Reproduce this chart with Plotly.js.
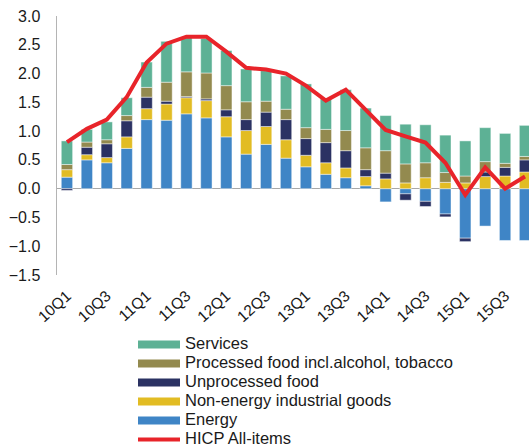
<!DOCTYPE html>
<html>
<head>
<meta charset="utf-8">
<script src="https://cdn.plot.ly/plotly-3.0.1.min.js"></script>
<style>html,body{margin:0;padding:0;background:#fff;}#chart{width:529px;height:446px;}</style>
</head>
<body>
<div id="chart"></div>
<script>
const quarters = ['10Q1','10Q2','10Q3','10Q4','11Q1','11Q2','11Q3','11Q4','12Q1','12Q2','12Q3','12Q4',
                  '13Q1','13Q2','13Q3','13Q4','14Q1','14Q2','14Q3','14Q4','15Q1','15Q2','15Q3','15Q4'];
const tickLabels = ['10Q1','10Q3','11Q1','11Q3','12Q1','12Q3','13Q1','13Q3','14Q1','14Q3','15Q1','15Q3'];

const energy      = [0.20,0.50,0.45,0.70,1.20,1.19,1.30,1.23,0.90,0.60,0.77,0.53,0.38,0.25,0.19,0.05,-0.23,-0.09,-0.22,-0.44,-0.86,-0.65,-0.90,-0.90];
const nonEnergy   = [0.13,0.09,0.09,0.20,0.19,0.28,0.28,0.30,0.35,0.41,0.31,0.32,0.20,0.20,0.17,0.16,0.17,0.10,0.19,0.11,0.10,0.21,0.22,0.29];
const unprocessed = [-0.03,0.13,0.24,0.28,0.20,0.05,0.02,0.03,0.12,0.19,0.25,0.35,0.29,0.35,0.30,0.12,0.10,-0.11,-0.09,-0.05,-0.06,0.08,0.15,0.21];
const processed   = [0.09,0.09,0.07,0.09,0.17,0.33,0.43,0.45,0.42,0.31,0.19,0.18,0.19,0.23,0.35,0.38,0.39,0.33,0.26,0.17,0.12,0.18,0.07,0.06];
const services    = [0.41,0.22,0.31,0.31,0.44,0.71,0.60,0.60,0.61,0.57,0.53,0.58,0.76,0.53,0.71,0.69,0.61,0.69,0.66,0.65,0.61,0.59,0.52,0.54];
const hicp        = [0.81,1.04,1.20,1.59,2.19,2.52,2.64,2.64,2.38,2.10,2.07,2.00,1.79,1.53,1.72,1.36,1.02,0.91,0.80,0.45,-0.11,0.37,0.00,0.21];

const seriesNames = ['Energy','Non-energy industrial goods','Unprocessed food','Processed food incl.alcohol, tobacco','Services'];
const seriesData  = [energy, nonEnergy, unprocessed, processed, services];
const seriesColors = ['#3f85c6','#e2bc23','#2b3263','#938a4f','#5db195'];
const lineName = 'HICP All-items';
const lineColor = '#e8242a';

const FONT = 'Liberation Sans, Arial, sans-serif';
const legendText = s => '<span style="font-size:16.5px">' + s + '</span>';

const traces = [];
seriesData.forEach((vals, i) => {
  traces.push({
    type: 'bar', x: quarters, y: vals, name: seriesNames[i], showlegend: false,
    marker: {color: seriesColors[i], line: {color: 'rgba(255,255,255,0.45)', width: 1}},
    hoverinfo: 'x+y+name'
  });
});
// legend entries (top to bottom: Services ... Energy)
for (let i = seriesNames.length - 1; i >= 0; i--) {
  traces.push({
    type: 'scatter', mode: 'lines', x: [quarters[0]], y: [null],
    name: legendText(seriesNames[i]), showlegend: true, hoverinfo: 'skip',
    line: {color: seriesColors[i], width: 8}
  });
}
traces.push({
  type: 'scatter', mode: 'lines', x: quarters, y: hicp, name: legendText(lineName),
  line: {color: lineColor, width: 4}
});

const plotL = 57, plotT = 16, plotB = 446 - 170.5, plotW = 529 - 57, plotH = plotB - plotT;

const layout = {
  width: 529, height: 446,
  margin: {l: plotL, r: 0, t: plotT, b: 170.5, pad: 0, autoexpand: false},
  paper_bgcolor: '#fff', plot_bgcolor: '#fff',
  font: {family: FONT, size: 16, color: '#1a1a1a'},
  barmode: 'relative', bargap: 0.43,
  showlegend: true,
  legend: {
    xref: 'paper', yref: 'paper',
    x: (133 - plotL) / plotW, y: (plotB - 330.7) / plotH,
    xanchor: 'left', yanchor: 'top', traceorder: 'normal',
    font: {family: FONT, size: 12, color: '#1a1a1a'},
    itemwidth: 42, bgcolor: 'rgba(0,0,0,0)', borderwidth: 0
  },
  xaxis: {
    type: 'category', categoryorder: 'array', categoryarray: quarters,
    range: [-0.5, 23.2], tickmode: 'array', tickvals: tickLabels, ticktext: tickLabels,
    tickangle: -42, ticks: '', showline: false, showgrid: false, zeroline: false,
    tickfont: {family: FONT, size: 15.5, color: '#1a1a1a'}, ticklabelstandoff: 8
  },
  yaxis: {
    range: [-1.5, 3.0], dtick: 0.5, tick0: 0, tickformat: '.1f',
    showgrid: false, showline: true, linecolor: '#b4b4b4', linewidth: 1.5,
    zeroline: true, zerolinecolor: '#a8a8a8', zerolinewidth: 1.5,
    ticks: '', tickfont: {family: FONT, size: 16, color: '#1a1a1a'}, ticklabelstandoff: 12
  }
};

Plotly.newPlot('chart', traces, layout, {staticPlot: true, displayModeBar: false});
</script>
</body>
</html>
